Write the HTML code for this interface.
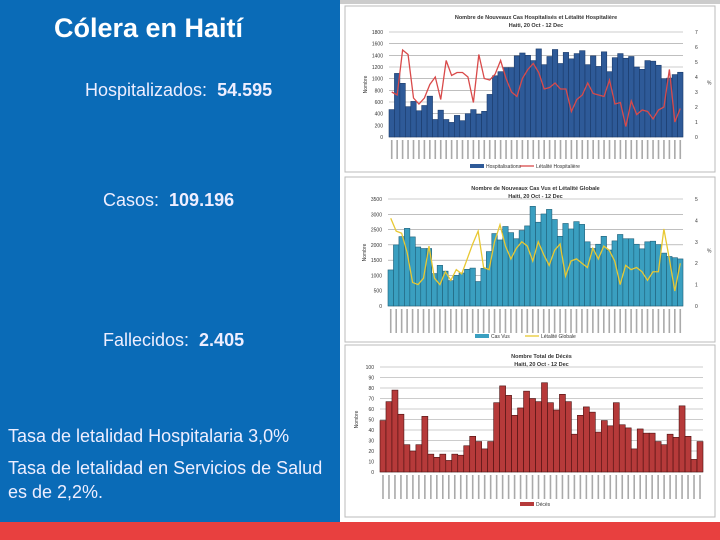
<!DOCTYPE html>
<html><head><meta charset="utf-8"><style>
body{margin:0;width:720px;height:540px;overflow:hidden;font-family:"Liberation Sans",sans-serif;position:relative;background:#fff}
#left{position:absolute;left:0;top:0;width:340px;height:522px;background:#0a6bb7;color:#fff}
.t{position:absolute;white-space:nowrap;font-size:18px;color:#eef}
#band{position:absolute;left:0;top:522px;width:720px;height:18px;background:#e8403f}
svg{position:absolute;left:340px;top:0}
</style></head><body>
<div id="left">
<div class="t" style="left:54px;top:13px;font-size:27px;font-weight:bold;color:#fff">Cólera en Haití</div>
<div class="t" style="left:85px;top:80px">Hospitalizados:&nbsp; <b>54.595</b></div>
<div class="t" style="left:103px;top:190px">Casos:&nbsp; <b>109.196</b></div>
<div class="t" style="left:103px;top:330px">Fallecidos:&nbsp; <b>2.405</b></div>
<div class="t" style="left:8px;top:426px">Tasa de letalidad Hospitalaria 3,0%</div>
<div class="t" style="left:8px;top:456px;line-height:24px">Tasa de letalidad en Servicios de Salud<br>es de 2,2%.</div>
</div>
<div id="band"></div>
<svg id="chart" width="380" height="522"></svg>
<script>
const hospBars=[470,1090,920,520,610,450,540,700,300,460,300,250,370,280,400,470,390,440,730,1050,1120,1190,1190,1390,1440,1400,1310,1510,1240,1380,1500,1260,1450,1340,1430,1480,1240,1390,1210,1460,1120,1360,1430,1350,1380,1200,1160,1310,1300,1230,1000,1010,1070,1110];
const hospRate=[3.0,2.8,5.8,5.5,2.6,2.2,2.6,3.5,4.0,2.5,5.1,4.1,4.3,4.3,4.0,2.3,5.5,3.9,3.8,4.2,5.1,3.9,3.0,2.7,3.9,4.5,4.9,4.3,3.2,3.3,3.6,3.2,3.2,1.7,2.5,2.8,3.6,2.9,2.8,2.7,3.8,2.2,2.3,0.7,2.4,1.5,1.8,1.7,1.2,1.8,2.0,4.5,1.0,1.9];
const caseBars=[1180,2000,2270,2540,2260,1930,1880,1880,1060,1330,1140,830,1000,1080,1200,1240,800,1230,1780,2370,2160,2600,2400,2200,2470,2620,3260,2740,3010,3160,2830,2280,2700,2520,2760,2670,2100,1880,2020,2280,1830,2130,2340,2200,2200,2020,1870,2100,2120,2010,1730,1620,1580,1540];
const caseRate=[4.1,3.5,3.4,2.5,1.1,1.0,1.3,2.8,1.3,1.0,1.6,1.2,1.7,1.5,2.2,2.9,3.5,1.8,1.7,3.0,3.8,2.8,2.2,2.7,3.0,2.8,2.1,3.0,2.4,1.9,2.6,2.9,1.4,2.1,2.2,2.0,1.8,2.7,2.2,2.8,2.6,2.1,1.0,1.9,1.7,1.8,1.6,1.2,1.6,1.6,3.6,2.2,0.7,2.0];
const deathBars=[49,67,78,55,26,20,26,53,17,14,17,11,17,16,25,34,29,22,29,66,82,73,54,61,77,70,67,85,66,59,74,67,36,54,62,57,38,49,44,66,45,42,22,41,37,37,29,26,36,33,63,34,12,29];
const hospTicks=[0,200,400,600,800,1000,1200,1400,1600,1800];
const caseTicks=[0,500,1000,1500,2000,2500,3000,3500];
const deathTicks=[0,10,20,30,40,50,60,70,80,90,100];
const svg=document.getElementById('chart');const NS='http://www.w3.org/2000/svg';
function mk(t,a,txt){const e=document.createElementNS(NS,t);for(const k in a)e.setAttribute(k,a[k]);if(txt!==undefined)e.textContent=txt;svg.appendChild(e);return e;}
function chart(o){
 const box=mk('rect',{x:o.bx,y:o.by,width:o.bw,height:o.bh,fill:'#fff',stroke:'#bbb'});
 
 
 const max=o.ticks[o.ticks.length-1];
 const y=v=>o.y0-(v/max)*(o.y0-o.y1);
 const n=o.bars.length,step=(o.x1-o.x0)/n;
 const x=i=>o.x0+i*step;
 o.ticks.forEach(t=>{
  mk('line',{x1:o.x0,x2:o.x1,y1:y(t),y2:y(t),stroke:'#999','stroke-width':0.6});
  const l=mk('text',{x:o.x0-6,y:y(t)+2,'font-size':5,'text-anchor':'end',fill:'#333'},t);
  
  
 });
 o.bars.forEach((v,i)=>{
  const r=mk('rect',{x:x(i),y:y(v),width:step,height:o.y0-y(v),fill:o.color,stroke:o.stroke,'stroke-width':0.6});
  
  
 });
 if(o.line){
  const rm=o.rticks[o.rticks.length-1];
  const yr=v=>o.y0-(v/rm)*(o.y0-o.y1);
  o.rticks.forEach(t=>{
   const l=mk('text',{x:o.x1+12,y:yr(t)+2,'font-size':5,fill:'#333'},t);
   
   
  });
  const p=mk('polyline',{points:o.line.map((v,i)=>(x(i)+step/2)+','+yr(v)).join(' '),fill:'none',stroke:o.lc,'stroke-width':1.3});
  
  
  mk('text',{x:o.x1+24,y:(o.y0+o.y1)/2,'font-size':5,fill:'#333'},'%');
 }
 for(let i=0;i<n;i++){mk('rect',{x:x(i)+step/2-0.8,y:o.y0+3,width:1.6,height:o.xl,fill:'#aaa'});}
 const ti=mk('text',{x:(o.x0+o.x1)/2,y:o.by+13,'font-size':5.5,'font-weight':'bold','text-anchor':'middle',fill:'#333'},o.title);
 
 
 mk('text',{x:(o.x0+o.x1)/2,y:o.by+21,'font-size':5.5,'font-weight':'bold','text-anchor':'middle',fill:'#333'},'Haiti, 20 Oct - 12 Dec');
 mk('text',{x:o.x0-22,y:(o.y0+o.y1)/2,'font-size':5,fill:'#333',transform:`rotate(-90 ${o.x0-22} ${(o.y0+o.y1)/2})`,'text-anchor':'middle'},'Nombre');
 const lg=mk('rect',{x:o.lx,y:o.ly-3,width:14,height:4,fill:o.color});
 
 
 mk('text',{x:o.lx+16,y:o.ly+1,'font-size':5,fill:'#333'},o.lab);
 if(o.line){mk('line',{x1:o.lx+50,x2:o.lx+64,y1:o.ly-1,y2:o.ly-1,stroke:o.lc,'stroke-width':1.3});mk('text',{x:o.lx+66,y:o.ly+1,'font-size':5,fill:'#333'},o.lab2);}
}
mk('rect',{x:0,y:0,width:380,height:4,fill:'#ccc'});
chart({name:'hospitalized-chart',bx:5,by:6,bw:370,bh:166,x0:49,x1:343,y0:137,y1:32,ticks:hospTicks,bars:hospBars,color:'#2e5a98',stroke:'#1a3a6a',line:hospRate,rticks:[0,1,2,3,4,5,6,7],lc:'#d94a4a',xl:19,lx:130,ly:167,lab:'Hospitalisations',lab2:'Létalité Hospitalière',title:'Nombre de Nouveaux Cas Hospitalisés et Létalité Hospitalière'});
chart({name:'cases-chart',bx:5,by:177,bw:370,bh:165,x0:48,x1:343,y0:306,y1:199,ticks:caseTicks,bars:caseBars,color:'#3a9fc0',stroke:'#1f5f78',line:caseRate,rticks:[0,1,2,3,4,5],lc:'#e8c832',xl:24,lx:135,ly:337,lab:'Cas Vus',lab2:'Létalité Globale',title:'Nombre de Nouveaux Cas Vus et Létalité Globale'});
chart({name:'deaths-chart',bx:5,by:345,bw:370,bh:172,x0:40,x1:363,y0:472,y1:367,ticks:deathTicks,bars:deathBars,color:'#b63a3a',stroke:'#4a1010',xl:24,lx:180,ly:505,lab:'Décès',title:'Nombre Total de Décès'});
</script>
</body></html>
